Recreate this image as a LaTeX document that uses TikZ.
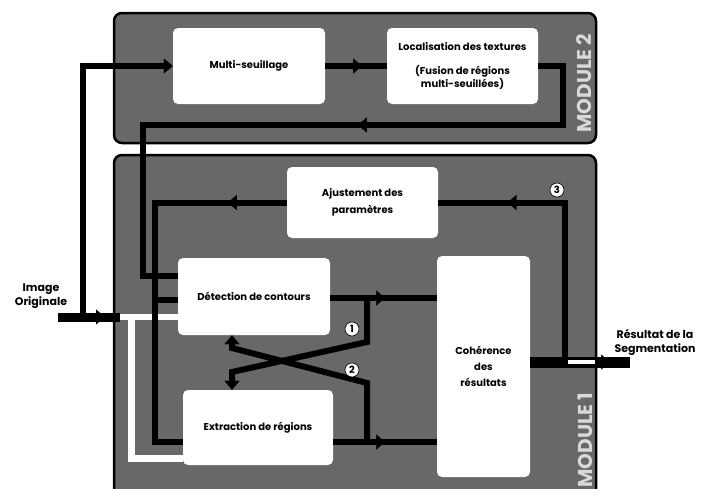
\documentclass[tikz,border=0pt]{standalone}
\usepackage{fontspec}
\setmainfont{Poppins}
\usetikzlibrary{arrows.meta,decorations.markings}
\definecolor{modfill}{HTML}{686868}
\begin{document}
\begin{tikzpicture}[x=1pt,y=-1pt,
  >={Triangle[length=9pt,width=15pt,line width=0.1pt]},
  module/.style={draw=black,line width=2.5pt,fill=modfill,rounded corners=8pt,inner sep=0pt},
  box/.style={fill=white,draw=none,rounded corners=5pt,inner sep=0pt,align=center,
    font=\bfseries\fontsize{10}{11}\selectfont},
  conn/.style={draw=black,line width=6pt},
  wconn/.style={draw=white,line width=6pt},
  marr/.style={postaction={decorate,decoration={markings,mark=at position #1 with {\arrow{>}}}}},
  num/.style={circle,fill=white,draw=black,line width=0.6pt,inner sep=0pt,minimum size=14pt,
    font=\bfseries\fontsize{10}{10}\selectfont},
  lab/.style={align=center,font=\bfseries\fontsize{11}{14}\selectfont},
  modlab/.style={rotate=90,text=gray!30,font=\bfseries\fontsize{20}{20}\selectfont}
]
\useasboundingbox (0,0) rectangle (715,488);
\clip (0,0) rectangle (715,488);
% modules
\node[module,minimum width=482pt,minimum height=130pt] (mod2) at (355,78) {};
\node[module,minimum width=482pt,minimum height=345pt] (mod1) at (355,327.5) {};
% boxes
\node[box,minimum width=152pt,minimum height=76pt] (ms) at (249,66) {Multi-seuillage};
\node[box,minimum width=151pt,minimum height=76pt] (loc) at (462.5,66)
  {Localisation des textures\\[13pt](Fusion de régions\\multi-seuillées)};
\node[box,minimum width=151pt,minimum height=71pt] (aj) at (362.5,202.5)
  {Ajustement des\\[6pt]paramètres};
\node[box,minimum width=152pt,minimum height=77pt] (det) at (254,296.5) {Détection de contours};
\node[box,minimum width=150pt,minimum height=75pt] (ext) at (258,427.5) {Extraction de régions};
\node[box,minimum width=93pt,minimum height=221pt] (coh) at (483.5,366.5)
  {Cohérence\\[5pt]des\\[5pt]résultats};
% labels
\node[lab] (img) at (41,296) {Image\\Originale};
\node[lab] (res) at (655,342) {Résultat de la\\Segmentation};
\node[modlab] (m2lab) at (584,83) {MODULE 2};
\node[modlab] (m1lab) at (585,440) {MODULE 1};
% coordinates
\coordinate (inS) at (58,317);
\coordinate (inE) at (120,317);
\coordinate (out) at (630,362);
% white input paths
\draw[wconn] (inE) -- (det.west |- 0,317);
\draw[wconn,line width=7pt] (131,317) |- (ext.west |- 0,458);
% input
\draw[conn,line width=9pt,marr=47pt] (inS) -- (inE);
\draw[conn,->] (83,317) |- (ms.west);
% module 2
\draw[conn,marr=0.6] (ms.east) -- (loc.west);
\draw[conn,marr=289pt] (loc.east) -| (563,125) -- (143,125) |- (det.west |- 0,276);
% ajustement feedback
\draw[conn,marr=59pt] (aj.west) -- (155,202.5) |- (ext.west |- 0,442);
\draw[conn] (155,300) -- (det.west |- 0,300);
% detection output
\draw[conn,marr=55pt] (det.east |- 0,298) -- (coh.west |- 0,298);
\draw[conn,->] (367,298) -- (367,342) -- (232,372) -- (ext.north -| 232,0);
% extraction output
\draw[conn,marr=52pt] (ext.east |- 0,442) -- (coh.west |- 0,442);
\draw[conn,->] (367,442) -- (367,383) -- (232,348) -- (det.south -| 232,0);
% coherence output
\draw[conn,line width=11pt,marr=80pt] (coh.east |- 0,362) -- (out);
\draw[draw=white,line width=4pt] (568,362) -- (595,362);
\draw[conn,marr=217pt] (565,362) |- (aj.east);
% numbers
\node[num] (n1) at (352,329) {1};
\node[num] (n2) at (352,370) {2};
\node[num] (n3) at (557,190) {3};
\end{tikzpicture}
\end{document}
